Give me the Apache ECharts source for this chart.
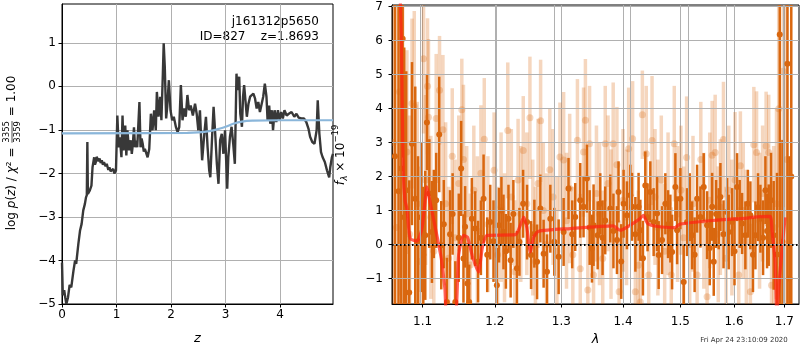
<!DOCTYPE html>
<html><head><meta charset="utf-8">
<script src="https://cdn.jsdelivr.net/npm/echarts@6/dist/echarts.min.js"></script>
<style>html,body{margin:0;padding:0;background:#fff}#c{width:800px;height:350px}</style>
</head><body><div id="c"></div>
<script>
// ---------- DATA ----------
const zTicks = [0, 1, 2, 3, 4];
const pzTicks = [-5, -4, -3, -2, -1, 0, 1];
const lamTicks = [1.1, 1.2, 1.3, 1.4, 1.5, 1.6, 1.7];
const fluxTicks = [-1, 0, 1, 2, 3, 4, 5, 6, 7];

const zGrid = [0.00,0.015,0.04,0.06,0.08,0.11,0.14,0.17,0.19,0.21,0.24,0.26,0.30,0.33,0.36,0.39,0.42,0.44,0.455,0.465,0.475,0.51,0.54,0.56,0.59,0.605,0.62,0.635,0.65,0.67,0.69,0.71,0.73,0.75,0.77,0.80,0.82,0.85,0.87,0.89,0.91,0.94,0.96,0.99,1.015,1.04,1.06,1.09,1.11,1.13,1.16,1.18,1.20,1.23,1.26,1.28,1.30,1.32,1.34,1.36,1.38,1.42,1.44,1.46,1.48,1.50,1.52,1.57,1.60,1.63,1.66,1.69,1.72,1.74,1.77,1.80,1.823,1.85,1.865,1.885,1.91,1.93,1.96,1.99,2.02,2.05,2.09,2.12,2.15,2.18,2.21,2.24,2.27,2.30,2.33,2.36,2.40,2.44,2.47,2.50,2.53,2.55,2.57,2.61,2.64,2.67,2.70,2.72,2.75,2.78,2.81,2.84,2.87,2.90,2.93,2.96,2.99,3.03,3.05,3.08,3.11,3.14,3.17,3.20,3.22,3.25,3.27,3.30,3.32,3.34,3.37,3.39,3.42,3.45,3.48,3.51,3.54,3.57,3.60,3.63,3.66,3.69,3.72,3.75,3.77,3.80,3.82,3.85,3.87,3.90,3.93,3.96,3.99,4.02,4.05,4.08,4.12,4.16,4.21,4.26,4.30,4.34,4.39,4.44,4.48,4.52,4.55,4.59,4.63,4.67,4.69,4.72,4.75,4.78,4.82,4.86,4.90,4.92,4.95,4.97];
const logPz = [-4.05,-4.80,-4.68,-4.85,-5.0,-4.85,-4.56,-4.62,-4.66,-4.24,-4.0,-4.08,-3.62,-3.32,-3.16,-2.85,-2.70,-2.55,-2.50,-1.28,-2.47,-2.39,-2.28,-1.86,-1.63,-1.80,-1.74,-1.62,-1.59,-1.72,-1.66,-1.76,-1.70,-1.80,-1.74,-1.84,-1.78,-1.92,-1.86,-1.95,-1.97,-1.90,-2.0,-1.93,-0.67,-1.40,-1.17,-1.63,-0.67,-1.47,-0.90,-1.59,-1.01,-1.47,-1.24,-1.55,-1.32,-0.94,-1.40,-1.25,-1.40,-0.36,-1.40,-1.20,-1.32,-1.50,-1.44,-1.63,-1.44,-0.63,-1.01,-0.55,-1.01,-0.13,-0.70,-0.24,-0.78,0.30,0.99,0.45,-0.74,-0.47,0.14,-0.55,-0.78,-0.70,-0.94,-1.05,-0.94,0.03,-0.78,-0.51,-0.70,-0.20,-0.55,-0.44,-0.67,-0.40,-0.63,-1.01,-0.55,-1.16,-1.70,-1.09,-0.70,-1.40,-1.93,-2.09,-1.24,-0.47,-1.09,-1.78,-2.24,-1.24,-1.09,-1.55,-1.01,-2.35,-1.63,-1.16,-0.93,-1.32,-1.78,0.29,-0.09,0.22,-0.63,-0.93,-0.24,0.03,-0.01,-0.70,-0.40,-0.24,-0.20,-0.17,-0.28,-0.51,-0.36,-0.59,-0.59,-0.24,0.06,-0.24,-0.78,-0.44,-0.86,-0.55,-1.01,-0.55,-0.82,-0.55,-0.78,-0.59,-0.74,-0.55,-0.67,-0.63,-0.59,-0.70,-0.63,-0.72,-0.74,-0.74,-0.82,-0.97,-1.16,-1.28,-1.32,-1.01,-0.32,-1.09,-1.51,-1.63,-1.74,-1.93,-2.09,-1.86,-1.63,-1.55];

const zPrior = [0, 2.30, 2.50, 2.70, 2.90, 3.00, 3.14, 3.30, 3.50, 4.00, 4.97];
const logPrior = [-1.08, -1.07, -1.06, -1.03, -0.97, -0.93, -0.86, -0.81, -0.79, -0.78, -0.78];

const lamDark = [1.0640,1.0687,1.0722,1.0740,1.0760,1.0786,1.0825,1.0861,1.0904,1.0940,1.0980,1.1010,1.1036,1.1058,1.1090,1.1125,1.1150,1.1182,1.1223,1.1250,1.1285,1.1327,1.1370,1.1405,1.1442,1.1490,1.1523,1.1555,1.1578,1.1610,1.1635,1.1672,1.1719,1.1760,1.1800,1.1838,1.1890,1.1933,1.1980,1.2029,1.2060,1.2095,1.2125,1.2160,1.2198,1.2230,1.2270,1.2323,1.2360,1.2415,1.2474,1.2534,1.2584,1.2625,1.2675,1.2725,1.2777,1.2828,1.2889,1.2957,1.3035,1.3112,1.3170,1.3218,1.3298,1.3351,1.3406,1.3450,1.3487,1.3513,1.3580,1.3622,1.3660,1.3704,1.3787,1.3840,1.3899,1.3925,1.3970,1.4010,1.4067,1.4124,1.4153,1.4210,1.4265,1.4295,1.4340,1.4381,1.4420,1.4468,1.4526,1.4586,1.4614,1.4674,1.4732,1.4780,1.4821,1.4852,1.4911,1.4942,1.5001,1.5061,1.5122,1.5170,1.5214,1.5260,1.5306,1.5367,1.5428,1.5491,1.5540,1.5585,1.5615,1.5660,1.5709,1.5741,1.5800,1.5868,1.5899,1.5964,1.6010,1.6060,1.6110,1.6157,1.6221,1.6270,1.6319,1.6370,1.6418,1.6470,1.6517,1.6570,1.6617,1.6650,1.6683,1.6730,1.6783,1.6850,1.6906,1.6960,1.7063,1.7105,1.7142];
const fluxDark = [2.6,1.57,2.24,6.06,0.8,1.60,-1.41,2.97,1.35,0.10,0.80,-0.30,0.27,3.59,1.50,0.37,0.90,1.30,3.24,-0.02,0.60,-1.69,0.30,0.90,-1.69,0.20,2.24,-0.41,0.52,-1.15,-1.69,0.76,0.47,-0.50,0.20,1.35,-0.30,0.66,0.10,-1.20,0.57,1.00,0.37,-0.20,0.76,-0.46,0.90,-0.70,0.08,1.20,0.66,-0.31,0.32,-0.51,1.06,-0.27,-0.80,0.76,0.08,-0.36,0.37,1.65,0.30,0.81,1.30,1.11,1.94,0.50,-0.12,0.57,0.27,1.20,0.20,0.71,1.06,0.40,0.13,1.55,-0.50,1.20,0.86,1.45,1.11,0.30,1.11,0.42,-0.40,1.74,0.80,1.55,0.66,0.91,-0.31,0.13,1.20,0.60,0.47,-0.22,1.69,0.42,1.35,-1.10,0.66,1.10,0.27,-0.30,1.35,0.81,1.69,0.57,-0.10,1.11,-0.51,0.90,0.76,1.40,0.30,0.96,0.37,0.66,-0.20,1.69,0.90,0.62,0.27,1.20,0.86,-0.30,0.27,1.10,0.76,0.20,1.60,0.40,0.57,1.30,0.27,-0.29,6.18,0.08,5.32,-1.0,2.0];
const errDark = [9.0,8.0,7.0,3.5,5.0,3.5,3.3,2.4,3.3,2.5,2.2,2.0,1.9,1.4,1.6,1.5,1.3,1.4,1.7,1.3,1.3,1.3,1.3,1.2,1.2,1.3,1.4,1.3,1.2,1.2,1.1,1.2,1.1,1.2,1.1,1.3,1.1,1.1,1.2,1.1,1.1,1.0,1.1,1.1,1.0,1.1,1.0,1.1,1.0,1.0,1.1,1.0,1.0,1.1,1.0,1.0,1.1,1.0,1.0,1.1,1.0,0.9,1.0,1.0,1.1,0.9,1.0,1.1,1.0,1.2,1.0,0.9,1.1,1.0,1.0,1.1,1.0,0.9,1.1,1.0,1.0,0.9,1.0,1.1,1.0,0.9,1.1,1.0,1.0,0.9,1.0,1.1,1.0,1.0,0.9,1.0,1.0,1.1,1.0,1.0,0.9,1.1,1.0,1.0,1.0,1.1,1.0,0.9,1.0,1.0,1.1,1.0,1.0,1.0,0.9,1.0,1.0,1.0,1.1,1.0,1.0,1.0,1.0,0.9,1.0,1.0,1.0,1.1,1.0,1.0,1.0,1.1,1.0,1.1,1.2,1.4,1.6,2.4,12.0,3.0,12.0,3.6,10.0];

const lamLight = [1.0620,1.0660,1.0700,1.0740,1.0795,1.0830,1.0861,1.0891,1.0930,1.0970,1.1013,1.1040,1.1066,1.1079,1.1110,1.1150,1.1182,1.1227,1.1273,1.1310,1.1350,1.1400,1.1440,1.1490,1.1532,1.1555,1.1600,1.1650,1.1700,1.1750,1.1800,1.1848,1.1900,1.1989,1.2040,1.2090,1.2140,1.2188,1.2240,1.2290,1.2340,1.2380,1.2417,1.2470,1.2517,1.2560,1.2600,1.2640,1.2679,1.2720,1.2770,1.2820,1.2870,1.2930,1.2977,1.3035,1.3080,1.3130,1.3180,1.3253,1.3298,1.3351,1.3381,1.3420,1.3448,1.3513,1.3560,1.3610,1.3663,1.3704,1.3750,1.3800,1.3836,1.3898,1.3935,1.4000,1.4060,1.4096,1.4163,1.4210,1.4260,1.4295,1.4330,1.4397,1.4440,1.4498,1.4550,1.4600,1.4660,1.4720,1.4780,1.4837,1.4891,1.4950,1.5010,1.5060,1.5114,1.5170,1.5230,1.5306,1.5374,1.5430,1.5491,1.5540,1.5585,1.5642,1.5700,1.5740,1.5799,1.5850,1.5900,1.5960,1.6020,1.6092,1.6124,1.6180,1.6240,1.6319,1.6387,1.6441,1.6500,1.6560,1.6631,1.6683,1.6740,1.6783,1.6840,1.6885,1.6975,1.7050];
const fluxLight = [3.0,0.5,4.5,2.0,2.72,0.3,4.15,4.07,1.2,-0.5,5.47,1.9,4.66,3.75,0.8,-0.2,3.71,4.54,3.38,1.2,-0.4,2.6,0.2,1.8,3.97,2.50,0.9,-0.6,1.6,0.4,2.1,3.10,0.6,2.19,-0.3,1.1,0.2,3.36,1.4,-0.8,1.9,0.9,2.77,1.2,3.73,0.5,-0.5,1.8,3.64,1.0,0.0,2.2,1.4,-0.2,2.58,2.49,0.7,1.65,-0.3,3.07,-0.71,2.72,3.66,-1.34,2.97,-0.90,1.5,0.9,-0.41,2.97,1.8,0.6,2.97,2.35,-1.39,1.3,0.8,2.82,3.11,-1.39,-0.61,-1.69,3.82,2.67,-0.90,3.06,1.4,0.5,1.9,-0.2,1.2,-0.90,2.97,0.9,1.6,0.2,2.56,0.0,1.2,-0.90,2.50,0.7,-1.54,1.3,2.63,2.71,0.3,1.1,3.09,-0.4,1.6,0.5,1.9,-0.90,2.32,1.0,0.1,-1.39,2.94,2.71,0.7,1.5,2.90,2.71,-1.20,0.5,1.2,4.0,5.1,2.5];
const errLight = [6.0,6.5,6.0,5.0,3.0,3.5,2.5,2.8,3.0,2.8,2.2,2.5,2.0,2.3,2.4,2.2,1.9,1.6,2.2,2.4,2.1,2.0,2.3,2.0,1.5,2.2,2.0,2.1,1.9,2.2,2.0,1.8,2.0,1.7,2.0,2.2,1.9,2.0,2.0,2.1,1.8,2.0,1.6,2.1,1.8,2.0,2.2,1.9,1.8,2.0,2.1,1.8,2.0,2.2,1.6,2.0,2.0,2.2,2.0,1.8,2.2,1.9,1.8,2.3,1.7,2.2,2.0,2.1,2.0,1.7,2.0,2.2,1.8,1.7,2.1,2.1,2.0,1.8,1.7,2.0,2.2,2.2,1.3,2.0,2.1,1.9,2.0,2.0,1.9,2.0,2.1,2.0,1.7,2.0,1.9,2.1,1.8,2.0,2.0,2.2,1.7,2.0,2.1,2.0,1.6,1.7,2.0,2.0,1.7,2.1,1.9,2.0,2.0,2.0,1.6,2.0,2.1,2.0,1.7,1.8,2.0,2.0,1.6,1.7,2.2,2.4,2.8,3.5,4.0,6.0];

const lamModel = [1.0700,1.0722,1.0735,1.0748,1.0770,1.0795,1.0838,1.0925,1.0990,1.1030,1.1058,1.1100,1.1191,1.1250,1.1300,1.1327,1.1442,1.1488,1.1555,1.1610,1.1650,1.1695,1.1766,1.1820,1.1886,1.2300,1.2380,1.2424,1.2470,1.2524,1.2570,1.2650,1.3139,1.3838,1.3950,1.4150,1.4280,1.4348,1.4421,1.4600,1.4900,1.4998,1.5534,1.6249,1.6500,1.6711,1.6750,1.6812,1.6846,1.6900,1.6960,1.7015];
const fluxModel = [8.0,6.1,4.0,2.1,1.3,1.06,0.18,0.10,0.45,1.2,1.70,1.25,0.27,-0.4,-1.3,-2.0,-2.0,-0.31,0.27,0.22,-0.1,-0.45,-0.81,-0.1,0.27,0.29,0.6,0.81,0.5,-0.22,0.2,0.39,0.47,0.55,0.42,0.6,0.75,0.86,0.62,0.53,0.50,0.60,0.70,0.78,0.82,0.83,0.4,-0.51,-2.0,-1.0,0.0,0.8];

// ---------- CHART ----------
const FONT = 'DejaVu Sans';
const chart = echarts.init(document.getElementById('c'), null, {renderer: 'canvas'});
const minus = v => String(v).replace('-', '\u2212');
const lg = v => Math.log10(v);
const GRIDC = '#b0b0b0';

function axisBase(extra) {
  return Object.assign({
    type: 'value',
    axisLine: {show: true, onZero: false, lineStyle: {color: '#000', width: 1}},
    splitLine: {show: true, lineStyle: {color: GRIDC, width: 1}},
  }, extra);
}
const tickStyle = {show: true, inside: false, length: 3.5, lineStyle: {color: '#000', width: 1}};
const labStyle = {color: '#000', fontSize: 12, fontFamily: FONT};

function errRender(color, lw, r) {
  return function (params, api) {
    const x = api.value(0), y = api.value(1), e = api.value(2);
    const top = api.coord([x, y + e]);
    const bot = api.coord([x, y - e]);
    const c = api.coord([x, y]);
    return {
      type: 'group',
      children: [
        {type: 'line', shape: {x1: top[0], y1: top[1], x2: bot[0], y2: bot[1]}, style: {stroke: color, lineWidth: lw}},
        {type: 'circle', shape: {cx: c[0], cy: c[1], r: r}, style: {fill: color}}
      ]
    };
  };
}

// measure helper for composed rotated labels
const mctx = document.createElement('canvas').getContext('2d');
function tw(text, size, italic) {
  mctx.font = (italic ? 'italic ' : '') + size + 'px "' + FONT + '"';
  return mctx.measureText(text).width;
}

// left y-label: log p(z) / chi^2 = 3355/3359 = 1.00
const LS = 12, FS = 8.5;
const leftParts = [['log ', 0], ['p', 1], ['(', 0], ['z', 1], [') / ', 0], ['\u03c7', 1], ['\u00b2 = ', 0]];
let leftChildren = [];
let px = 0;
leftParts.forEach(([t, it]) => {
  leftChildren.push({type: 'text', x: px, y: 0, style: {text: t, fontSize: LS, fontFamily: FONT, fontStyle: it ? 'italic' : 'normal', fill: '#000', verticalAlign: 'middle', align: 'left'}});
  px += tw(t, LS, it);
});
const fw = Math.max(tw('3355', FS), tw('3359', FS));
const fc = px + 1 + fw / 2;
leftChildren.push({type: 'text', x: fc, y: -5, style: {text: '3355', fontSize: FS, fontFamily: FONT, fill: '#000', verticalAlign: 'middle', align: 'center'}});
leftChildren.push({type: 'text', x: fc, y: 5.5, style: {text: '3359', fontSize: FS, fontFamily: FONT, fill: '#000', verticalAlign: 'middle', align: 'center'}});
leftChildren.push({type: 'line', shape: {x1: px + 1, y1: 0, x2: px + 1 + fw, y2: 0}, style: {stroke: '#000', lineWidth: 0.7}});
px += fw + 2;
leftChildren.push({type: 'text', x: px, y: 0, style: {text: ' = 1.00', fontSize: LS, fontFamily: FONT, fill: '#000', verticalAlign: 'middle', align: 'left'}});
px += tw(' = 1.00', LS, 0);
const leftTotal = px;

// right y-label: f_lambda x 10^-19
let rightChildren = [];
let rx = 0;
rightChildren.push({type: 'text', x: rx, y: 0, style: {text: 'f', fontSize: LS, fontFamily: FONT, fontStyle: 'italic', fill: '#000', verticalAlign: 'middle'}});
rx += tw('f', LS, 1) + 0.5;
rightChildren.push({type: 'text', x: rx, y: 3.5, style: {text: '\u03bb', fontSize: FS, fontFamily: FONT, fontStyle: 'italic', fill: '#000', verticalAlign: 'middle'}});
rx += tw('\u03bb', FS, 1);
rightChildren.push({type: 'text', x: rx, y: 0, style: {text: ' \u00d7 10', fontSize: LS, fontFamily: FONT, fill: '#000', verticalAlign: 'middle'}});
rx += tw(' \u00d7 10', LS, 0);
rightChildren.push({type: 'text', x: rx, y: -5, style: {text: '\u221219', fontSize: FS, fontFamily: FONT, fill: '#000', verticalAlign: 'middle'}});
rx += tw('\u221219', FS, 0);
const rightTotal = rx;

// grid lines of the spectrum panel drawn above the error bars (as in the reference)
const specGridLines = fluxTicks.map(v => ({yAxis: v})).concat(lamTicks.map(l => ({xAxis: lg(l)})));

const option = {
  animation: false,
  backgroundColor: '#fff',
  grid: [
    {left: 62, top: 4, width: 271, height: 300, show: true, borderColor: '#000', borderWidth: 1, backgroundColor: 'transparent', containLabel: false, outerBoundsMode: 'none'},
    {left: 392, top: 5, width: 407, height: 299, show: true, borderColor: '#000', borderWidth: 1, backgroundColor: 'transparent', containLabel: false, outerBoundsMode: 'none'}
  ],
  xAxis: [
    axisBase({gridIndex: 0, min: 0, max: 4.97,
      axisTick: Object.assign({customValues: zTicks}, tickStyle),
      axisLabel: Object.assign({customValues: zTicks, margin: 5, formatter: minus}, labStyle),
      name: 'z', nameLocation: 'middle', nameGap: 28,
      nameTextStyle: {fontStyle: 'italic', fontSize: 13, color: '#000', fontFamily: FONT}}),
    axisBase({gridIndex: 1, min: lg(1.0603), max: lg(1.7302),
      axisTick: Object.assign({customValues: lamTicks.map(lg)}, tickStyle),
      axisLabel: Object.assign({customValues: lamTicks.map(lg), margin: 12, formatter: v => Math.pow(10, v).toFixed(1)}, labStyle),
      name: '\u03bb', nameLocation: 'middle', nameGap: 28,
      nameTextStyle: {fontStyle: 'italic', fontSize: 13, color: '#000', fontFamily: FONT}})
  ],
  yAxis: [
    axisBase({gridIndex: 0, min: -5, max: 1.89,
      axisTick: Object.assign({customValues: pzTicks}, tickStyle),
      axisLabel: Object.assign({customValues: pzTicks, margin: 6, formatter: minus}, labStyle)}),
    axisBase({gridIndex: 1, min: -1.75, max: 7.05,
      axisTick: Object.assign({customValues: fluxTicks}, tickStyle),
      axisLabel: Object.assign({customValues: fluxTicks, margin: 9, formatter: minus}, labStyle)})
  ],
  series: [
    {type: 'line', xAxisIndex: 0, yAxisIndex: 0, data: zGrid.map((z, i) => [z, logPz[i]]),
      showSymbol: false, symbol: 'none', lineStyle: {color: '#383838', width: 2.4}, z: 2, clip: true},
    {type: 'line', xAxisIndex: 0, yAxisIndex: 0, data: zPrior.map((z, i) => [z, logPrior[i]]),
      showSymbol: false, symbol: 'none', smooth: 0.4, lineStyle: {color: '#8ab6da', width: 2.2}, z: 3, clip: true},
    {type: 'custom', xAxisIndex: 1, yAxisIndex: 1, clip: true, z: 1,
      data: lamLight.map((l, i) => [lg(l), fluxLight[i], errLight[i]]),
      encode: {x: 0, y: 1}, renderItem: errRender('rgba(217,103,16,0.27)', 3.5, 3.5)},
    {type: 'custom', xAxisIndex: 1, yAxisIndex: 1, clip: true, z: 2,
      data: lamDark.map((l, i) => [lg(l), fluxDark[i], errDark[i]]),
      encode: {x: 0, y: 1}, renderItem: errRender('#d9670f', 2.5, 3),
      markLine: {silent: true, symbol: 'none', label: {show: false}, animation: false,
        lineStyle: {color: GRIDC, type: 'solid', width: 1}, emphasis: {disabled: true},
        data: specGridLines}},
    {type: 'line', xAxisIndex: 1, yAxisIndex: 1, data: lamModel.map((l, i) => [lg(l), fluxModel[i]]),
      showSymbol: false, symbol: 'none', smooth: 0.2, clip: true, z: 4,
      lineStyle: {color: 'rgba(255,35,20,0.72)', width: 3.2},
      markLine: {silent: true, symbol: 'none', label: {show: false},
        lineStyle: {color: '#000', type: [1.5, 2.5], width: 2},
        data: [{yAxis: 0}]}}
  ],
  graphic: [
    {type: 'text', x: 319, y: 22, style: {text: 'j161312p5650', fontSize: 12, fontFamily: FONT, fill: '#000', align: 'right', verticalAlign: 'middle'}},
    {type: 'text', x: 319, y: 37, style: {text: 'ID=827    z=1.8693', fontSize: 12, fontFamily: FONT, fill: '#000', align: 'right', verticalAlign: 'middle'}},
    {type: 'text', x: 744, y: 340, style: {text: 'Fri Apr 24 23:10:09 2020', fontSize: 7, fontFamily: FONT, fill: '#333', align: 'center', verticalAlign: 'middle'}},
    {type: 'group', x: 12, y: 153 + leftTotal / 2, rotation: Math.PI / 2, children: leftChildren},
    {type: 'group', x: 341, y: 155 + rightTotal / 2, rotation: Math.PI / 2, children: rightChildren}
  ]
};
chart.setOption(option);
</script>
</body></html>
